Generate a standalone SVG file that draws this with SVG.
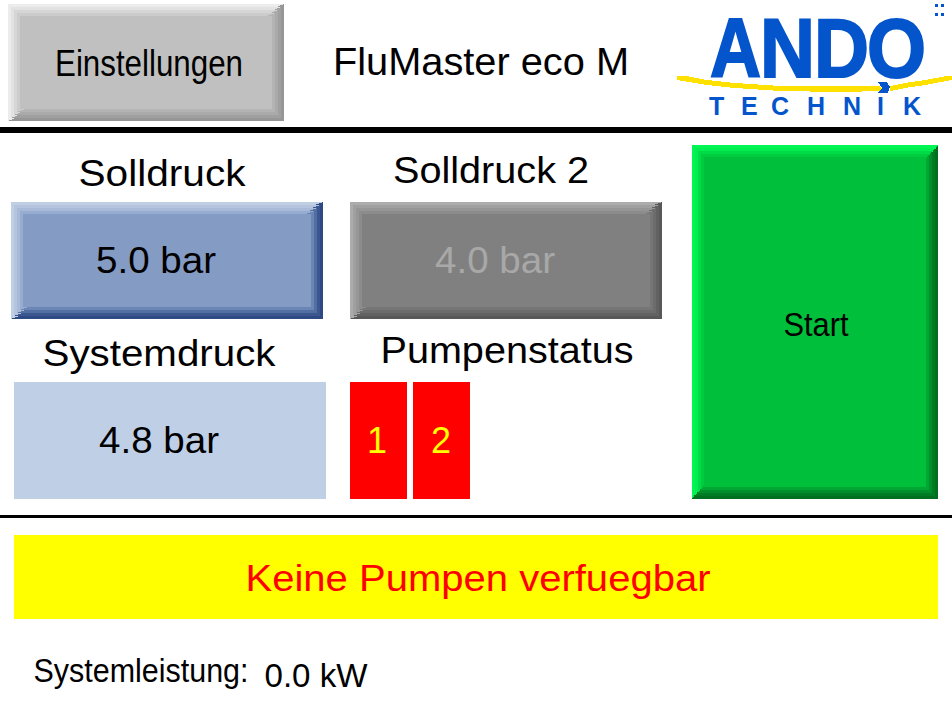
<svg xmlns="http://www.w3.org/2000/svg" width="952" height="706" viewBox="0 0 952 706">
<style>
rect,polygon{shape-rendering:crispEdges}
text{font-family:"Liberation Sans",Arial,sans-serif;fill:#000;text-anchor:middle}
.t{font-size:36px}
.logo{fill:#0455cc;stroke:#0455cc;stroke-width:2px;font-weight:700;font-size:84px;text-anchor:start}
.sub{fill:#0455cc;font-weight:700;font-size:25px;text-anchor:start}
</style>
<rect width="952" height="706" fill="#fff"/>
<g id="dividers">
<rect x="0" y="127" width="952" height="6" fill="#000"/>
<rect x="0" y="515" width="952" height="3" fill="#000"/>
</g>
<g id="btn-einstellungen">
<rect x="8" y="4" width="276" height="117" fill="#ececec"/><polygon points="284,4 284,121 8,121" fill="#969696"/>
<rect x="11" y="7" width="270" height="111" fill="#e2e2e2"/><polygon points="281,7 281,118 11,118" fill="#a0a0a0"/>
<rect x="14" y="10" width="264" height="105" fill="#d6d6d6"/><polygon points="278,10 278,115 14,115" fill="#aaaaaa"/>
<rect x="17" y="13" width="258" height="99" fill="#cccccc"/><polygon points="275,13 275,112 17,112" fill="#b4b4b4"/>
<rect x="20" y="16" width="252" height="93" fill="#c0c0c0"/>
<text class="t" x="149" y="76" textLength="188" lengthAdjust="spacingAndGlyphs">Einstellungen</text>
</g>
<g id="title"><text x="481" y="75" font-size="38" textLength="296" lengthAdjust="spacingAndGlyphs">FluMaster eco M</text></g>
<g id="logo">
<polygon points="677,76 686,76 707,80 735,83 780,86 860,86 880,86 884,91 840,92 780,91 735,88 707,85 689,82 677,80" fill="#ffe100"/>
<polygon points="952,76 947,76 925,80 905,83 890,86 890,91 905,88 925,85 952,80" fill="#ffe100"/>
<text class="logo" x="710" y="77" textLength="51" lengthAdjust="spacingAndGlyphs">A</text>
<text class="logo" x="760" y="77" textLength="55" lengthAdjust="spacingAndGlyphs">N</text>
<text class="logo" x="814" y="77" textLength="55" lengthAdjust="spacingAndGlyphs">D</text>
<text class="logo" x="867" y="77" textLength="59" lengthAdjust="spacingAndGlyphs">O</text>
<polygon points="878,82 887,82 890,87 888,93 878,93 882,88" fill="#0455cc"/>
<text class="sub" x="709" y="115">T</text>
<text class="sub" x="741" y="115">E</text>
<text class="sub" x="771" y="115">C</text>
<text class="sub" x="807" y="115">H</text>
<text class="sub" x="843" y="115">N</text>
<text class="sub" x="877" y="115">I</text>
<text class="sub" x="903" y="115">K</text>
<rect x="935" y="4" width="3" height="3" fill="#0455cc"/><rect x="941" y="4" width="3" height="3" fill="#0455cc"/>
<rect x="935" y="13" width="3" height="3" fill="#0455cc"/><rect x="941" y="13" width="3" height="3" fill="#0455cc"/>
</g>
<g id="label-solldruck"><text class="t" x="162" y="186" textLength="167" lengthAdjust="spacingAndGlyphs">Solldruck</text></g>
<g id="btn-solldruck">
<rect x="11" y="202" width="312" height="117" fill="#c0cfe4"/><polygon points="323,202 323,319 11,319" fill="#2d4a85"/>
<rect x="14" y="205" width="306" height="111" fill="#b4c4de"/><polygon points="320,205 320,316 14,316" fill="#3c5790"/>
<rect x="17" y="208" width="300" height="105" fill="#a8bad8"/><polygon points="317,208 317,313 17,313" fill="#526fa3"/>
<rect x="20" y="211" width="294" height="99" fill="#96acd0"/><polygon points="314,211 314,310 20,310" fill="#6b85b5"/>
<rect x="23" y="214" width="288" height="93" fill="#849bc3"/>
<text class="t" x="156" y="273" textLength="120" lengthAdjust="spacingAndGlyphs">5.0 bar</text>
</g>
<g id="label-solldruck2"><text class="t" x="491" y="183" textLength="196" lengthAdjust="spacingAndGlyphs">Solldruck 2</text></g>
<g id="btn-solldruck2">
<rect x="350" y="202" width="312" height="117" fill="#acacac"/><polygon points="662,202 662,319 350,319" fill="#585858"/>
<rect x="353" y="205" width="306" height="111" fill="#a0a0a0"/><polygon points="659,205 659,316 353,316" fill="#626262"/>
<rect x="356" y="208" width="300" height="105" fill="#969696"/><polygon points="656,208 656,313 356,313" fill="#6c6c6c"/>
<rect x="359" y="211" width="294" height="99" fill="#8c8c8c"/><polygon points="653,211 653,310 359,310" fill="#767676"/>
<rect x="362" y="214" width="288" height="93" fill="#808080"/>
<text class="t" x="495" y="273" textLength="120" lengthAdjust="spacingAndGlyphs" style="fill:#a8a8a8">4.0 bar</text>
</g>
<g id="label-systemdruck"><text class="t" x="159" y="366" textLength="233" lengthAdjust="spacingAndGlyphs">Systemdruck</text></g>
<g id="box-systemdruck">
<rect x="14" y="382" width="312" height="117" fill="#bfcfe6"/>
<text class="t" x="159" y="453" textLength="120" lengthAdjust="spacingAndGlyphs">4.8 bar</text>
</g>
<g id="label-pumpenstatus"><text class="t" x="507" y="363" textLength="253" lengthAdjust="spacingAndGlyphs">Pumpenstatus</text></g>
<g id="pump-1"><rect x="350" y="382" width="57" height="117" fill="#ff0000"/><text class="t" x="377" y="453" style="fill:#ffff00">1</text></g>
<g id="pump-2"><rect x="413" y="382" width="57" height="117" fill="#ff0000"/><text class="t" x="441" y="453" style="fill:#ffff00">2</text></g>
<g id="btn-start">
<rect x="692" y="145" width="246" height="354" fill="#00f652"/><polygon points="938,145 938,499 692,499" fill="#006f20"/>
<rect x="695" y="148" width="240" height="348" fill="#00ee4f"/><polygon points="935,148 935,496 695,496" fill="#007c25"/>
<rect x="698" y="151" width="234" height="342" fill="#00dc48"/><polygon points="932,151 932,493 698,493" fill="#008f2b"/>
<rect x="701" y="154" width="228" height="336" fill="#00cc40"/><polygon points="929,154 929,490 701,490" fill="#00a733"/>
<rect x="704" y="157" width="222" height="330" fill="#00bf3a"/>
<text x="816" y="336" font-size="33" textLength="65" lengthAdjust="spacingAndGlyphs">Start</text>
</g>
<g id="banner">
<rect x="14" y="535" width="924" height="84" fill="#ffff00"/>
<text class="t" x="478" y="591" textLength="465" lengthAdjust="spacingAndGlyphs" style="fill:#ff0000">Keine Pumpen verfuegbar</text>
</g>
<g id="systemleistung">
<text x="141" y="682" font-size="33" textLength="215" lengthAdjust="spacingAndGlyphs">Systemleistung:</text>
<text x="316" y="687" font-size="33" textLength="103" lengthAdjust="spacingAndGlyphs">0.0 kW</text>
</g>
</svg>
